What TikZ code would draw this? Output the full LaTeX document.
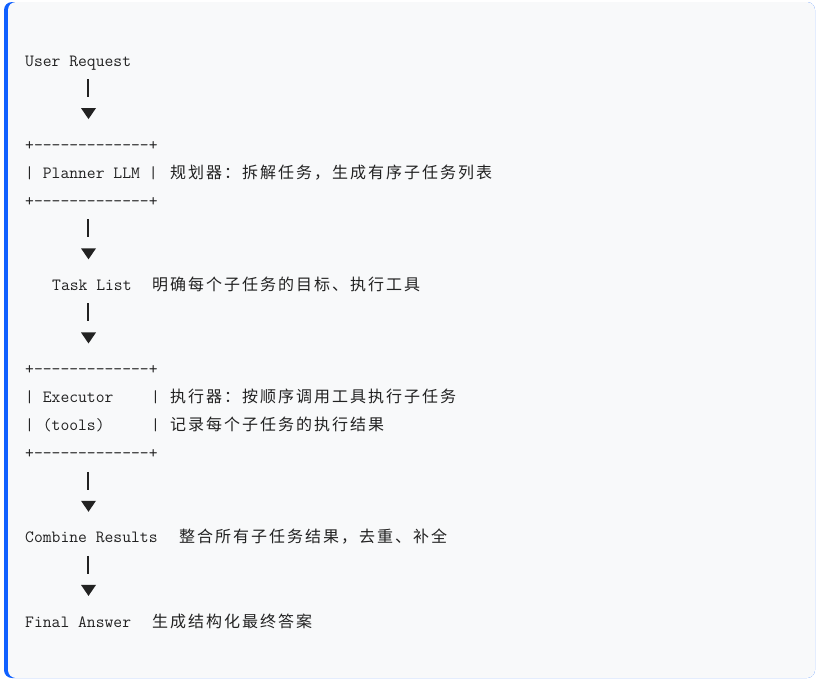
\documentclass[tikz,border=0pt]{standalone}
\usepackage{fontspec}
\newfontfamily\codefont{Latin Modern Mono}
\newfontfamily\cjk{Noto Sans CJK SC}
\definecolor{codebg}{HTML}{F8F9FA}
\definecolor{barblue}{HTML}{1060FF}
\definecolor{codeink}{HTML}{222222}
\makeatletter
\newcommand\cjrun[1]{{\cjk\fontsize{16}{20}\selectfont\@tfor\cjch:=#1\do{\makebox[18pt][c]{\cjch}}}}
\makeatother
\newcommand\rowbase[1]{66+28.05*#1}
\newcommand\rowmid[1]{60+28.05*#1}
\tikzset{
  code/.style={anchor=base west,inner sep=0pt,text=codeink,
    font=\codefont\fontsize{17.14}{20}\selectfont},
  bar/.style={codeink,line width=1.4pt},
}
\begin{document}
\begin{tikzpicture}[x=1pt,y=-1pt,line join=round]
\useasboundingbox (0,0) rectangle (819,681);
\fill[barblue,rounded corners=8] (4,2) rectangle (815,678);
\fill[codebg,rounded corners=8] (8,2) rectangle (815,678);
% request
\node[code] (req) at (25,{\rowbase{0}}) {User Request};
% planner box
\node[code] (ptop) at (25,{\rowbase{3}}) {+-------------+};
\node[code] (plan) at (25,{\rowbase{4}}) {| Planner LLM |};
\node[code] (plancn) at ({25+9*16},{\rowbase{4}}) {\cjrun{规划器：拆解任务，生成有序子任务列表}};
\node[code] (pbot) at (25,{\rowbase{5}}) {+-------------+};
% task list
\node[code] (tasks) at ({25+9*3},{\rowbase{8}}) {Task List};
\node[code] (taskscn) at ({25+9*14},{\rowbase{8}}) {\cjrun{明确每个子任务的目标、执行工具}};
% executor box
\node[code] (etop) at (25,{\rowbase{11}}) {+-------------+};
\node[code] (exec) at (25,{\rowbase{12}}) {| Executor};
\node[code] (execr) at ({25+9*14},{\rowbase{12}}) {|};
\node[code] (execcn) at ({25+9*16},{\rowbase{12}}) {\cjrun{执行器：按顺序调用工具执行子任务}};
\node[code] (tools) at (25,{\rowbase{13}}) {| (tools)};
\node[code] (toolsr) at ({25+9*14},{\rowbase{13}}) {|};
\node[code] (toolscn) at ({25+9*16},{\rowbase{13}}) {\cjrun{记录每个子任务的执行结果}};
\node[code] (ebot) at (25,{\rowbase{14}}) {+-------------+};
% combine and answer
\node[code] (comb) at (25,{\rowbase{17}}) {Combine Results};
\node[code] (combcn) at ({25+9*17},{\rowbase{17}}) {\cjrun{整合所有子任务结果，去重、补全}};
\node[code] (ans) at (25,{\rowbase{20}}) {Final Answer};
\node[code] (anscn) at ({25+9*14},{\rowbase{20}}) {\cjrun{生成结构化最终答案}};
% arrows
\foreach \r in {1,6,9,15,18}{
  \draw[bar] (88,{\rowmid{\r}-9}) -- (88,{\rowmid{\r}+9});
  \fill[codeink] (81,{\rowmid{\r}+20}) -- (96,{\rowmid{\r}+20}) -- (88.5,{\rowmid{\r}+31}) -- cycle;
}
\end{tikzpicture}
\end{document}
